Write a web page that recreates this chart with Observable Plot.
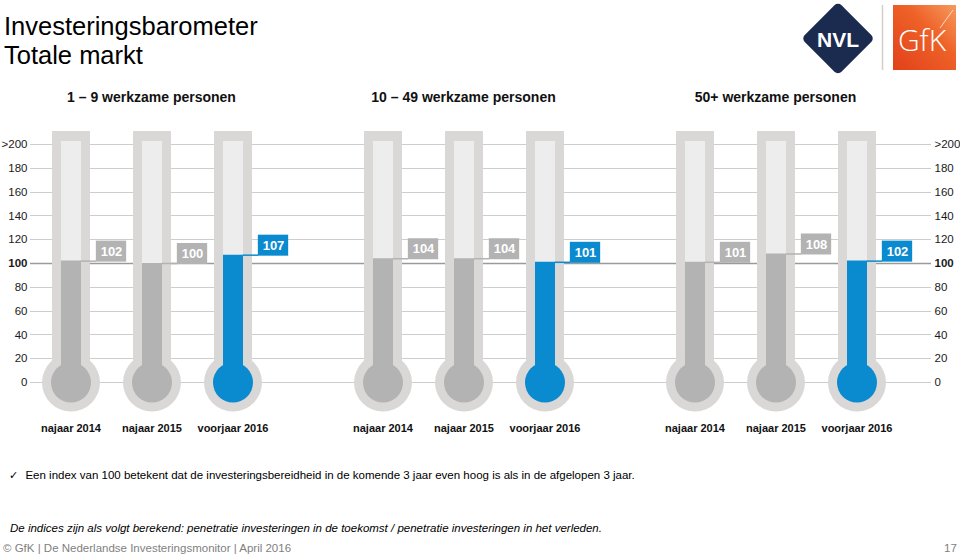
<!DOCTYPE html>
<html><head><meta charset="utf-8">
<script src="https://cdn.jsdelivr.net/npm/d3@7"></script>
<script src="https://cdn.jsdelivr.net/npm/@observablehq/plot@0.6"></script>
<style>
body{margin:0;background:#fff;font-family:"Liberation Sans",Arial,sans-serif;}
#page{position:relative;width:960px;height:559px;overflow:hidden;background:#fff;}
.abs{position:absolute;white-space:nowrap;}
#title{left:4px;top:12px;font-size:25.5px;line-height:29px;color:#000;}
#chart{position:absolute;left:0;top:80px;}
#note{left:9px;top:468px;font-size:11.5px;line-height:14px;color:#000;}
#note .chk{font-family:"DejaVu Sans";font-size:11px;margin-right:4px;}
#calc{left:10px;top:521px;font-size:11.5px;line-height:14px;font-style:italic;color:#000;}
#foot{left:3px;top:541px;font-size:11.5px;line-height:14px;color:#7f7f7f;}
#page-no{left:944px;top:541px;font-size:11.5px;line-height:14px;color:#7f7f7f;}
#logos{position:absolute;left:790px;top:0;}
</style></head><body>
<div id="page">
  <div id="title" class="abs">Investeringsbarometer<br>Totale markt</div>
  <svg id="logos" width="170" height="80" viewBox="790 0 170 80">
    <defs>
      <linearGradient id="gfk" x1="0" y1="1" x2="1" y2="0">
        <stop offset="0" stop-color="#e2401a"/>
        <stop offset="0.6" stop-color="#ee6228"/>
        <stop offset="1" stop-color="#f79a5e"/>
      </linearGradient>
    </defs>
    <rect x="812" y="12.5" width="52" height="52" rx="5" fill="#1b2b50" transform="rotate(45 838 38.5)"/>
    <text x="838" y="46.5" text-anchor="middle" font-family="Liberation Sans, Arial" font-weight="bold" font-size="21" fill="#fff">NVL</text>
    <line x1="882.5" y1="5" x2="882.5" y2="70" stroke="#d6cfc8" stroke-width="1.5"/>
    <rect x="893" y="5" width="63" height="65" fill="url(#gfk)"/>
    <line x1="940" y1="28" x2="953" y2="10" stroke="#fff" stroke-opacity="0.7" stroke-width="1"/>
    <text x="922" y="51" text-anchor="middle" font-family="Open Sans, Liberation Sans" font-weight="300" font-size="30" fill="#fff">GfK</text>
  </svg>
  <div id="chart"></div>
  <div id="note" class="abs"><span class="chk">✓</span> Een index van 100 betekent dat de investeringsbereidheid in de komende 3 jaar even hoog is als in de afgelopen 3 jaar.</div>
  <div id="calc" class="abs">De indices zijn als volgt berekend: penetratie investeringen in de toekomst / penetratie investeringen in het verleden.</div>
  <div id="foot" class="abs">© GfK | De Nederlandse Investeringsmonitor | April 2016</div>
  <div id="page-no" class="abs">17</div>
</div>
<script>
// ---- data ----
const groups = ["1 – 9 werkzame personen", "10 – 49 werkzame personen", "50+ werkzame personen"];
const periods = ["najaar 2014", "najaar 2015", "voorjaar 2016"];
const index1to9 = [102, 100, 107];
const index10to49 = [104, 104, 101];
const index50plus = [101, 108, 102];
const yTicks = [0, 20, 40, 60, 80, 100, 120, 140, 160, 180, 200];
const yTickLabels = ["0", "20", "40", "60", "80", "100", "120", "140", "160", "180", ">200"];

const seriesByGroup = [index1to9, index10to49, index50plus];
const data = groups.flatMap((g, gi) => periods.map((p, pi) => ({group: g, period: p, value: seriesByGroup[gi][pi]})));
const grid = groups.flatMap(g => yTicks.map(t => ({group: g, tick: t})));

// ---- styling ----
const GREY = "#b3b3b3", BLUE = "#0a8bd0", TUBE = "#dad7d7", GLASS = "#ededed";
const GRID = "#cdcdcd", BASE = "#9a9a9a";
const TUBE_TOP = 211, GLASS_TOP = 202.5;   // scale values where the tube ends
const FX_RANGE = [-5, 931];
const X_PAD_OUTER = 0.41;
const step = (FX_RANGE[1] - FX_RANGE[0]) / groups.length / (periods.length + 2 * X_PAD_OUTER);
const HB = step / 2;
const fmt = t => yTickLabels[yTicks.indexOf(t)];
const baseTick = 100;

const chart = Plot.plot({
  width: 960,
  height: 370,
  marginTop: 64,
  marginBottom: 68,
  marginLeft: 0,
  marginRight: 29,
  style: {fontFamily: "Liberation Sans, Arial, sans-serif", background: "transparent", overflow: "visible", color: "#1a1a1a"},
  fx: {domain: groups, range: FX_RANGE, paddingInner: 0, paddingOuter: 0},
  x: {domain: periods, paddingInner: 0, paddingOuter: X_PAD_OUTER},
  y: {domain: [0, 200], range: [302, 64]},
  color: {domain: periods, range: [GREY, GREY, BLUE]},
  marks: [
    Plot.ruleY(grid.filter(d => d.tick !== baseTick && d.group === groups[0]), {fx: "group", y: "tick", stroke: GRID, strokeWidth: 1, insetLeft: 35, shapeRendering: "crispEdges"}),
    Plot.ruleY(grid.filter(d => d.tick !== baseTick && d.group !== groups[0]), {fx: "group", y: "tick", stroke: GRID, strokeWidth: 1, shapeRendering: "crispEdges"}),
    Plot.ruleY(grid.filter(d => d.tick === baseTick && d.group === groups[0]), {fx: "group", y: "tick", stroke: BASE, strokeWidth: 1.6, insetLeft: 35}),
    Plot.ruleY(grid.filter(d => d.tick === baseTick && d.group !== groups[0]), {fx: "group", y: "tick", stroke: BASE, strokeWidth: 1.6}),
    // glass tube
    Plot.ruleX(data, {x: "period", fx: "group", y1: () => 0, y2: () => TUBE_TOP, stroke: TUBE, strokeWidth: 38}),
    Plot.dot(data, {x: "period", fx: "group", y: () => 0, r: 29, fill: TUBE, stroke: null}),
    Plot.ruleX(data, {x: "period", fx: "group", y1: () => 0, y2: () => GLASS_TOP, stroke: GLASS, strokeWidth: 20}),
    // mercury
    Plot.ruleX(data, {x: "period", fx: "group", y1: () => 0, y2: "value", stroke: "period", strokeWidth: 20}),
    Plot.dot(data, {x: "period", fx: "group", y: () => 0, r: 20, fill: "period", stroke: null}),
    // value labels
    Plot.tickY(data, {x: "period", fx: "group", y: "value", stroke: "period", strokeWidth: 1.5, insetLeft: HB + 10, insetRight: HB - 26}),
    Plot.barY(data, {x: "period", fx: "group", y1: "value", y2: "value", fill: "period", insetLeft: HB + 25, insetRight: HB - 56, insetTop: -20, insetBottom: -1}),
    Plot.text(data, {x: "period", fx: "group", y: "value", text: d => String(d.value), dx: 40.5, dy: -9.5, fill: "white", fontWeight: "bold", fontSize: 13}),
    // axes
    Plot.axisY(yTicks.filter(t => t !== baseTick), {anchor: "left", tickSize: 0, tickPadding: -32, tickFormat: fmt, fontSize: 11.5, color: "#1a1a1a"}),
    Plot.axisY([baseTick], {anchor: "left", tickSize: 0, tickPadding: -32, tickFormat: fmt, fontSize: 11.5, fontWeight: "bold", color: "#1a1a1a"}),
    Plot.axisY(yTicks.filter(t => t !== baseTick), {anchor: "right", tickSize: 0, tickPadding: 3, tickFormat: fmt, fontSize: 11.5, color: "#1a1a1a"}),
    Plot.axisY([baseTick], {anchor: "right", tickSize: 0, tickPadding: 3, tickFormat: fmt, fontSize: 11.5, fontWeight: "bold", color: "#1a1a1a"}),
    Plot.axisX({anchor: "bottom", tickSize: 0, tickPadding: 42, fontSize: 11, fontWeight: "bold", color: "#111", label: null}),
    Plot.axisFx({anchor: "top", tickSize: 0, tickPadding: 43, fontSize: 14, fontWeight: "bold", color: "#111", label: null})
  ]
});
document.getElementById("chart").appendChild(chart);
</script>
</body></html>
